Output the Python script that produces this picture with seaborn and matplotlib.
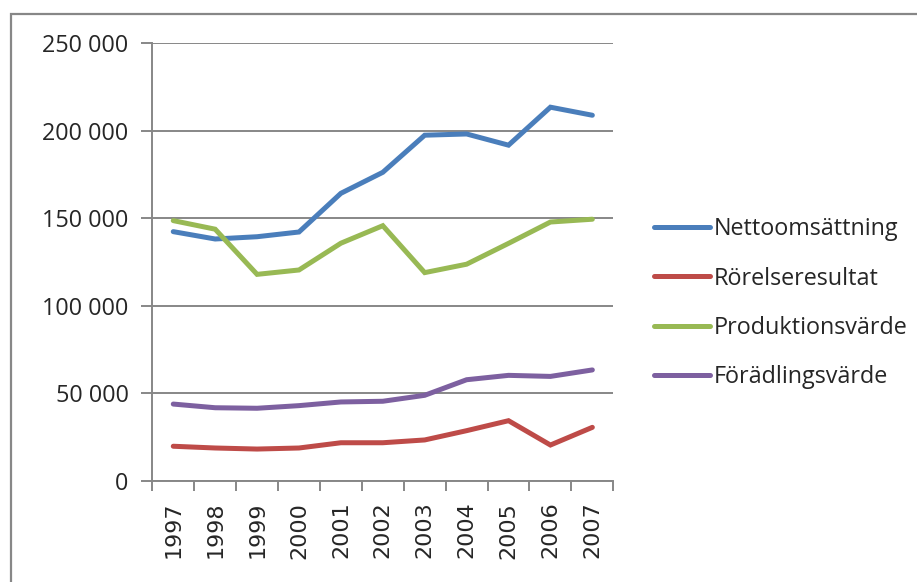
import pandas as pd
import matplotlib.pyplot as plt
import matplotlib.ticker as mticker
from matplotlib.patches import Rectangle
import seaborn as sns

# Values
years = [1997, 1998, 1999, 2000, 2001, 2002, 2003, 2004, 2005, 2006, 2007]
series_names = ['Nettoomsättning', 'Rörelseresultat', 'Produktionsvärde', 'Förädlingsvärde']
nettoomsattning = [142400, 138200, 139500, 142200, 164300, 176300, 197500, 198200, 191800, 213500, 208900]
rorelseresultat = [19800, 18800, 18200, 18800, 21800, 21800, 23400, 28700, 34400, 20500, 30600]
produktionsvarde = [148700, 143800, 118000, 120500, 135800, 145800, 119000, 123800, 135700, 147900, 149500]
foradlingsvarde = [43900, 41800, 41500, 43000, 45100, 45500, 48900, 57800, 60300, 59700, 63400]
colors = ['#4A7EBB', '#BE4B48', '#98B954', '#7D60A0']


def build_frame():
    """
    Put the four series into one long table for seaborn.
    """
    rows = []
    for name, values in zip(series_names, [nettoomsattning, rorelseresultat, produktionsvarde, foradlingsvarde]):
        for year, value in zip(years, values):
            rows.append({'År': year, 'Värde': value, 'Serie': name})
    return pd.DataFrame(rows)


def space_thousands(x, pos):
    return f"{int(x):,}".replace(',', ' ')


def plot_chart(data):
    sns.set_style('white')
    plt.rcParams['font.family'] = ['Open Sans', 'DejaVu Sans']

    fig = plt.figure(figsize=(9.17, 5.82), dpi=100)
    ax = fig.add_axes([0.1661, 0.1737, 0.5027, 0.7519])

    sns.lineplot(data=data, x='År', y='Värde', hue='Serie', hue_order=series_names,
                 palette=colors, linewidth=3.6, ax=ax, legend=True)
    for line in ax.lines:
        line.set_solid_capstyle('round')
        line.set_solid_joinstyle('miter')

    grid_color = '#878787'
    ax.set_ylim(0, 250000)
    ax.yaxis.set_major_locator(mticker.MultipleLocator(50000))
    ax.yaxis.set_major_formatter(mticker.FuncFormatter(space_thousands))
    ax.grid(axis='y', color=grid_color, linewidth=1.4)
    ax.set_axisbelow(True)

    # Excel style category axis: labels at category centers, ticks between categories
    ax.set_xlim(years[0] - 0.5, years[-1] + 0.5)
    ax.set_xticks(years, labels=[str(y) for y in years])
    ax.set_xticks([y - 0.5 for y in years] + [years[-1] + 0.5], minor=True)
    ax.tick_params(axis='x', which='minor', length=7, width=1.4, color=grid_color, direction='out', bottom=True)
    ax.tick_params(axis='x', which='major', length=0, pad=15, labelsize=16, labelrotation=90,
                   labelfontfamily='DejaVu Sans')
    ax.tick_params(axis='y', length=8, width=1.4, color=grid_color, direction='out', left=True,
                   labelsize=16.8, pad=9)

    for side in ['top', 'right']:
        ax.spines[side].set_visible(False)
    for side in ['left', 'bottom']:
        ax.spines[side].set_color(grid_color)
        ax.spines[side].set_linewidth(1.4)

    ax.set_xlabel('')
    ax.set_ylabel('')

    handles, labels = ax.get_legend_handles_labels()
    ax.legend(handles, labels, loc='center left', bbox_to_anchor=(0.7005, 0.479),
              bbox_transform=fig.transFigure, frameon=False, fontsize=16.8,
              handlelength=2.4, handletextpad=0.15, labelspacing=1.08, borderpad=0)

    # outer chart border, running off the right and bottom of the picture
    fig.patches.append(Rectangle((0.0115, -0.1), 1.5, 1.0768, transform=fig.transFigure,
                                 fill=False, edgecolor=grid_color, linewidth=1.6))

    fig.savefig('out.png', dpi=100)


if __name__ == "__main__":
    df = build_frame()
    plot_chart(df)
